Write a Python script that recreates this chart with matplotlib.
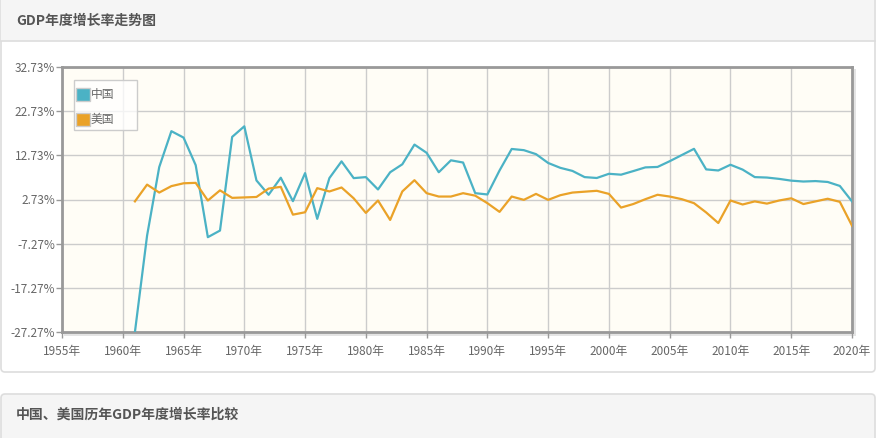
import matplotlib
matplotlib.use("Agg")
import matplotlib.pyplot as plt
from matplotlib.patches import FancyBboxPatch, Rectangle

plt.rcParams['font.family'] = ['Noto Sans CJK SC', 'DejaVu Sans']

years = list(range(1961, 2021))
china = [-27.27, -5.45, 10.07, 18.2, 16.75, 10.5, -5.8, -4.3, 16.9, 19.3,
         7.05, 3.8, 7.66, 2.35, 8.7, -1.65, 7.57, 11.36, 7.57, 7.8,
         5.0, 8.9, 10.7, 15.16, 13.3, 8.9, 11.6, 11.1, 4.16, 3.87,
         9.3, 14.17, 13.9, 13.0, 11.0, 9.9, 9.2, 7.8, 7.6, 8.55,
         8.35, 9.16, 10.0, 10.1, 11.4, 12.8, 14.2, 9.55, 9.3, 10.6,
         9.5, 7.8, 7.7, 7.4, 7.0, 6.8, 6.9, 6.7, 5.8, 2.3]
usa = [2.3, 6.1, 4.3, 5.76, 6.4, 6.5, 2.5, 4.8, 3.1, 3.2,
       3.3, 5.2, 5.6, -0.7, -0.16, 5.3, 4.55, 5.45, 3.0, -0.3,
       2.5, -1.9, 4.55, 7.1, 4.16, 3.4, 3.4, 4.16, 3.6, 1.9,
       -0.07, 3.4, 2.65, 4.0, 2.65, 3.7, 4.3, 4.5, 4.7, 4.0,
       0.9, 1.7, 2.8, 3.8, 3.4, 2.8, 1.9, -0.2, -2.6, 2.5,
       1.6, 2.3, 1.8, 2.5, 3.0, 1.7, 2.3, 2.9, 2.2, -3.2]
series_names = ['中国', '美国']
series_colors = ['#4bb2c5', '#eaa228']
y_ticks = [-27.27, -17.27, -7.27, 2.73, 12.73, 22.73, 32.73]
x_ticks = list(range(1955, 2021, 5))
title1 = 'GDP年度增长率走势图'
title2 = '中国、美国历年GDP年度增长率比较'

W, H = 878, 438
fig = plt.figure(figsize=(W / 100, H / 100), dpi=100)
fig.patch.set_facecolor('white')

bg = fig.add_axes([0, 0, 1, 1])
bg.set_xlim(0, W)
bg.set_ylim(H, 0)
bg.axis('off')

# panel 1
bg.add_patch(FancyBboxPatch((1, -6), 874, 378, boxstyle='round,pad=0,rounding_size=4',
                            facecolor='white', edgecolor='#dddddd', lw=1.2))
bg.add_patch(Rectangle((1.5, 0), 873, 41, facecolor='#f5f5f5', edgecolor='none'))
bg.plot([1, 875], [41, 41], color='#dddddd', lw=1.2)
bg.text(16, 21, title1, fontsize=10, fontweight='bold', color='#555555', va='center', ha='left')

# panel 2
bg.add_patch(FancyBboxPatch((1, 394), 874, 60, boxstyle='round,pad=0,rounding_size=4',
                            facecolor='#f5f5f5', edgecolor='#dddddd', lw=1.2))
bg.text(16, 415, title2, fontsize=10, fontweight='bold', color='#555555', va='center', ha='left')

# shadow of plot frame
bg.add_patch(Rectangle((64, 333), 790, 3, facecolor='#e4e4e4', edgecolor='none'))
bg.add_patch(Rectangle((853, 69), 3, 267, facecolor='#e4e4e4', edgecolor='none'))

L, R, T, B = 62, 852, 67, 332
ax = fig.add_axes([L / W, (H - B) / H, (R - L) / W, (B - T) / H])
ax.set_facecolor('#fffdf6')
for vals, name, col in zip([china, usa], series_names, series_colors):
    ax.plot(years, vals, color=col, lw=1.6, label=name, zorder=3)
ax.set_xlim(1955, 2020)
ax.set_ylim(-27.27, 32.73)
ax.set_yticks(y_ticks)
ax.set_yticklabels([f'{v:.2f}%' for v in y_ticks])
ax.set_xticks(x_ticks)
ax.set_xticklabels([f'{v}年' for v in x_ticks])
ax.grid(True, color='#cccccc', lw=1)
ax.set_axisbelow(True)
for s in ax.spines.values():
    s.set_color('#999999')
    s.set_linewidth(2)
ax.tick_params(axis='both', colors='#999999', labelcolor='#666666', labelsize=8.5, length=4, width=1)
ax.tick_params(axis='y', pad=1)
ax.tick_params(axis='x', pad=5)

# legend drawn in pixel space on an overlay axes
ov = fig.add_axes([0, 0, 1, 1])
ov.set_xlim(0, W)
ov.set_ylim(H, 0)
ov.axis('off')
ov.patch.set_alpha(0)
ov.add_patch(Rectangle((74, 80), 63, 50, facecolor='white', alpha=0.75, edgecolor='none'))
ov.add_patch(Rectangle((74, 80), 63, 50, facecolor='none', edgecolor='#cccccc', lw=1))
for i, (name, col) in enumerate(zip(series_names, series_colors)):
    y0 = 88 + i * 25
    ov.add_patch(Rectangle((76, y0), 14, 13, facecolor=col, edgecolor='#cccccc', lw=1))
    ov.text(91, y0 + 6.5, name, fontsize=8.5, color='#666666', va='center', ha='left')

fig.savefig('out.png', dpi=100)
